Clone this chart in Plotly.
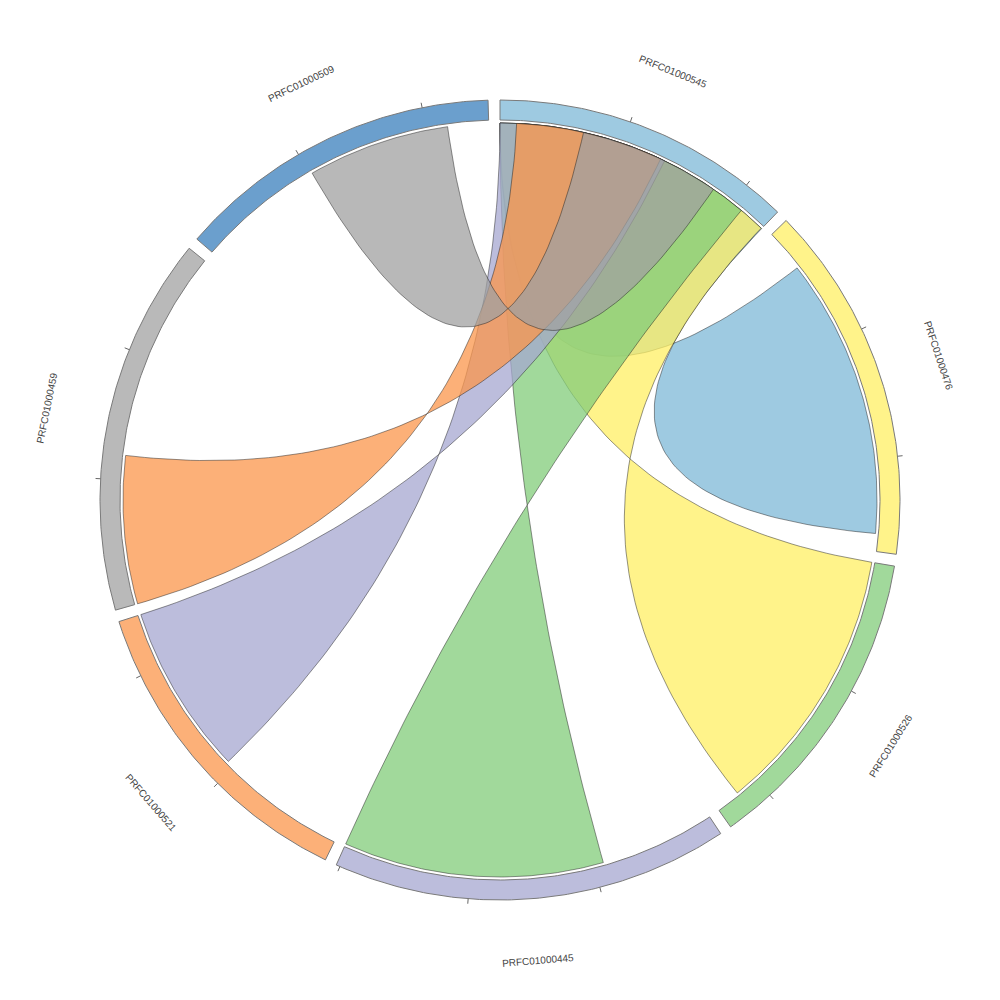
import numpy as np
import plotly.graph_objects as go

# ---------------- data ----------------
sectors = ["PRFC01000545", "PRFC01000476", "PRFC01000526", "PRFC01000445",
           "PRFC01000521", "PRFC01000459", "PRFC01000509"]
sector_sizes_kb = [23.1, 27.4, 23.8, 30.3, 24.4, 28.9, 25.0]
sector_colors = ["#9ecae1", "#fff38a", "#a1d99b", "#bcbddc",
                 "#fcb078", "#b9b9b9", "#6b9fcd"]
tick_interval_kb = 10

# links: every link joins the hub contig PRFC01000545 to a partner contig
link_partner = ["PRFC01000476", "PRFC01000526", "PRFC01000445",
                "PRFC01000521", "PRFC01000459", "PRFC01000509"]
link_partner_start = [3.33, 0.0, 9.24, 10.63, 0.0, 10.19]
link_partner_end = [25.98, 21.8, 30.3, 24.4, 11.97, 21.7]
link_hub_start = [0.0, 0.0, 0.0, 0.0, 1.33, 6.73]
link_hub_end = [23.1, 23.05, 20.92, 13.6, 13.25, 18.13]
link_colors = ["#7eb8d7", "#ffef63", "#82cc7a", "#a6a7d0", "#fb964b", "#a0a0a0"]
hub = "PRFC01000545"

# ---------------- layout ----------------
GAP = 1.714
R_IN, R_OUT = 380, 400
R_LINK = 377
R_LABEL = 462
deg_per_kb = (360 - GAP * len(sectors)) / sum(sector_sizes_kb)
starts = []
acc = 0.0
for s in sector_sizes_kb:
    starts.append(acc)
    acc += s * deg_per_kb + GAP
start_of = dict(zip(sectors, starts))


def ang(name, pos):
    return start_of[name] + pos * deg_per_kb


def pol(r, deg):
    t = np.radians(deg)
    return r * np.sin(t), r * np.cos(t)


def arc_pts(r, d0, d1, n=None):
    if n is None:
        n = max(4, int(abs(d1 - d0) * 2))
    d = np.linspace(d0, d1, n)
    x, y = pol(r, d)
    return list(x), list(y)


def bezier(p0, p2, n=80):
    t = np.linspace(0, 1, n)
    x = (1 - t) ** 2 * p0[0] + t ** 2 * p2[0]
    y = (1 - t) ** 2 * p0[1] + t ** 2 * p2[1]
    return list(x), list(y)


def rgba(hexc, a):
    h = hexc.lstrip("#")
    r, g, b = int(h[0:2], 16), int(h[2:4], 16), int(h[4:6], 16)
    return f"rgba({r},{g},{b},{a})"


fig = go.Figure()

# ribbons
for i in range(len(link_partner)):
    a0 = ang(hub, link_hub_start[i])
    a1 = ang(hub, link_hub_end[i])
    b0 = ang(link_partner[i], link_partner_start[i])
    b1 = ang(link_partner[i], link_partner_end[i])
    xs, ys = [], []
    x, y = arc_pts(R_LINK, a0, a1); xs += x; ys += y
    x, y = bezier(pol(R_LINK, a1), pol(R_LINK, b1)); xs += x; ys += y
    x, y = arc_pts(R_LINK, b1, b0); xs += x; ys += y
    x, y = bezier(pol(R_LINK, b0), pol(R_LINK, a0)); xs += x; ys += y
    fig.add_trace(go.Scatter(
        x=xs, y=ys, mode="lines", fill="toself",
        fillcolor=rgba(link_colors[i], 0.75),
        line=dict(color="rgba(30,30,30,0.8)", width=0.6),
        hoverinfo="skip", showlegend=False))

# sector arcs
annotations = []
tx, ty = [], []
for name, size, col in zip(sectors, sector_sizes_kb, sector_colors):
    d0 = ang(name, 0)
    d1 = ang(name, size)
    xo, yo = arc_pts(R_OUT, d0, d1)
    xi, yi = arc_pts(R_IN, d1, d0)
    fig.add_trace(go.Scatter(
        x=xo + xi + [xo[0]], y=yo + yi + [yo[0]], mode="lines", fill="toself",
        fillcolor=col, line=dict(color="#7a7a7a", width=1),
        hoverinfo="skip", showlegend=False))
    k = 1
    while k * tick_interval_kb < size:
        d = ang(name, k * tick_interval_kb)
        p0 = pol(R_OUT, d)
        p1 = pol(R_OUT + 5, d)
        tx += [p0[0], p1[0], None]
        ty += [p0[1], p1[1], None]
        k += 1
    mid = (d0 + d1) / 2
    lx, ly = pol(R_LABEL, mid)
    rot = mid if mid <= 90 else (mid - 180 if mid < 270 else mid - 360)
    annotations.append(dict(x=lx, y=ly, text=name, showarrow=False,
                            textangle=rot, xanchor="center", yanchor="middle",
                            font=dict(family="Liberation Sans, Arial, sans-serif",
                                      size=10, color="#444444")))

fig.add_trace(go.Scatter(x=tx, y=ty, mode="lines",
                         line=dict(color="#666666", width=1),
                         hoverinfo="skip", showlegend=False))

# the page body has an 8px margin: plot is 992 px wide, centre at page (500,500)
fig.update_layout(
    width=992, height=992,
    margin=dict(l=0, r=0, t=0, b=0),
    paper_bgcolor="white", plot_bgcolor="white",
    xaxis=dict(range=[-492, 500], visible=False, fixedrange=True),
    yaxis=dict(range=[-500, 492], visible=False, scaleanchor="x",
               scaleratio=1, fixedrange=True),
    annotations=annotations,
    showlegend=False,
)

fig.write_html("out.html")
